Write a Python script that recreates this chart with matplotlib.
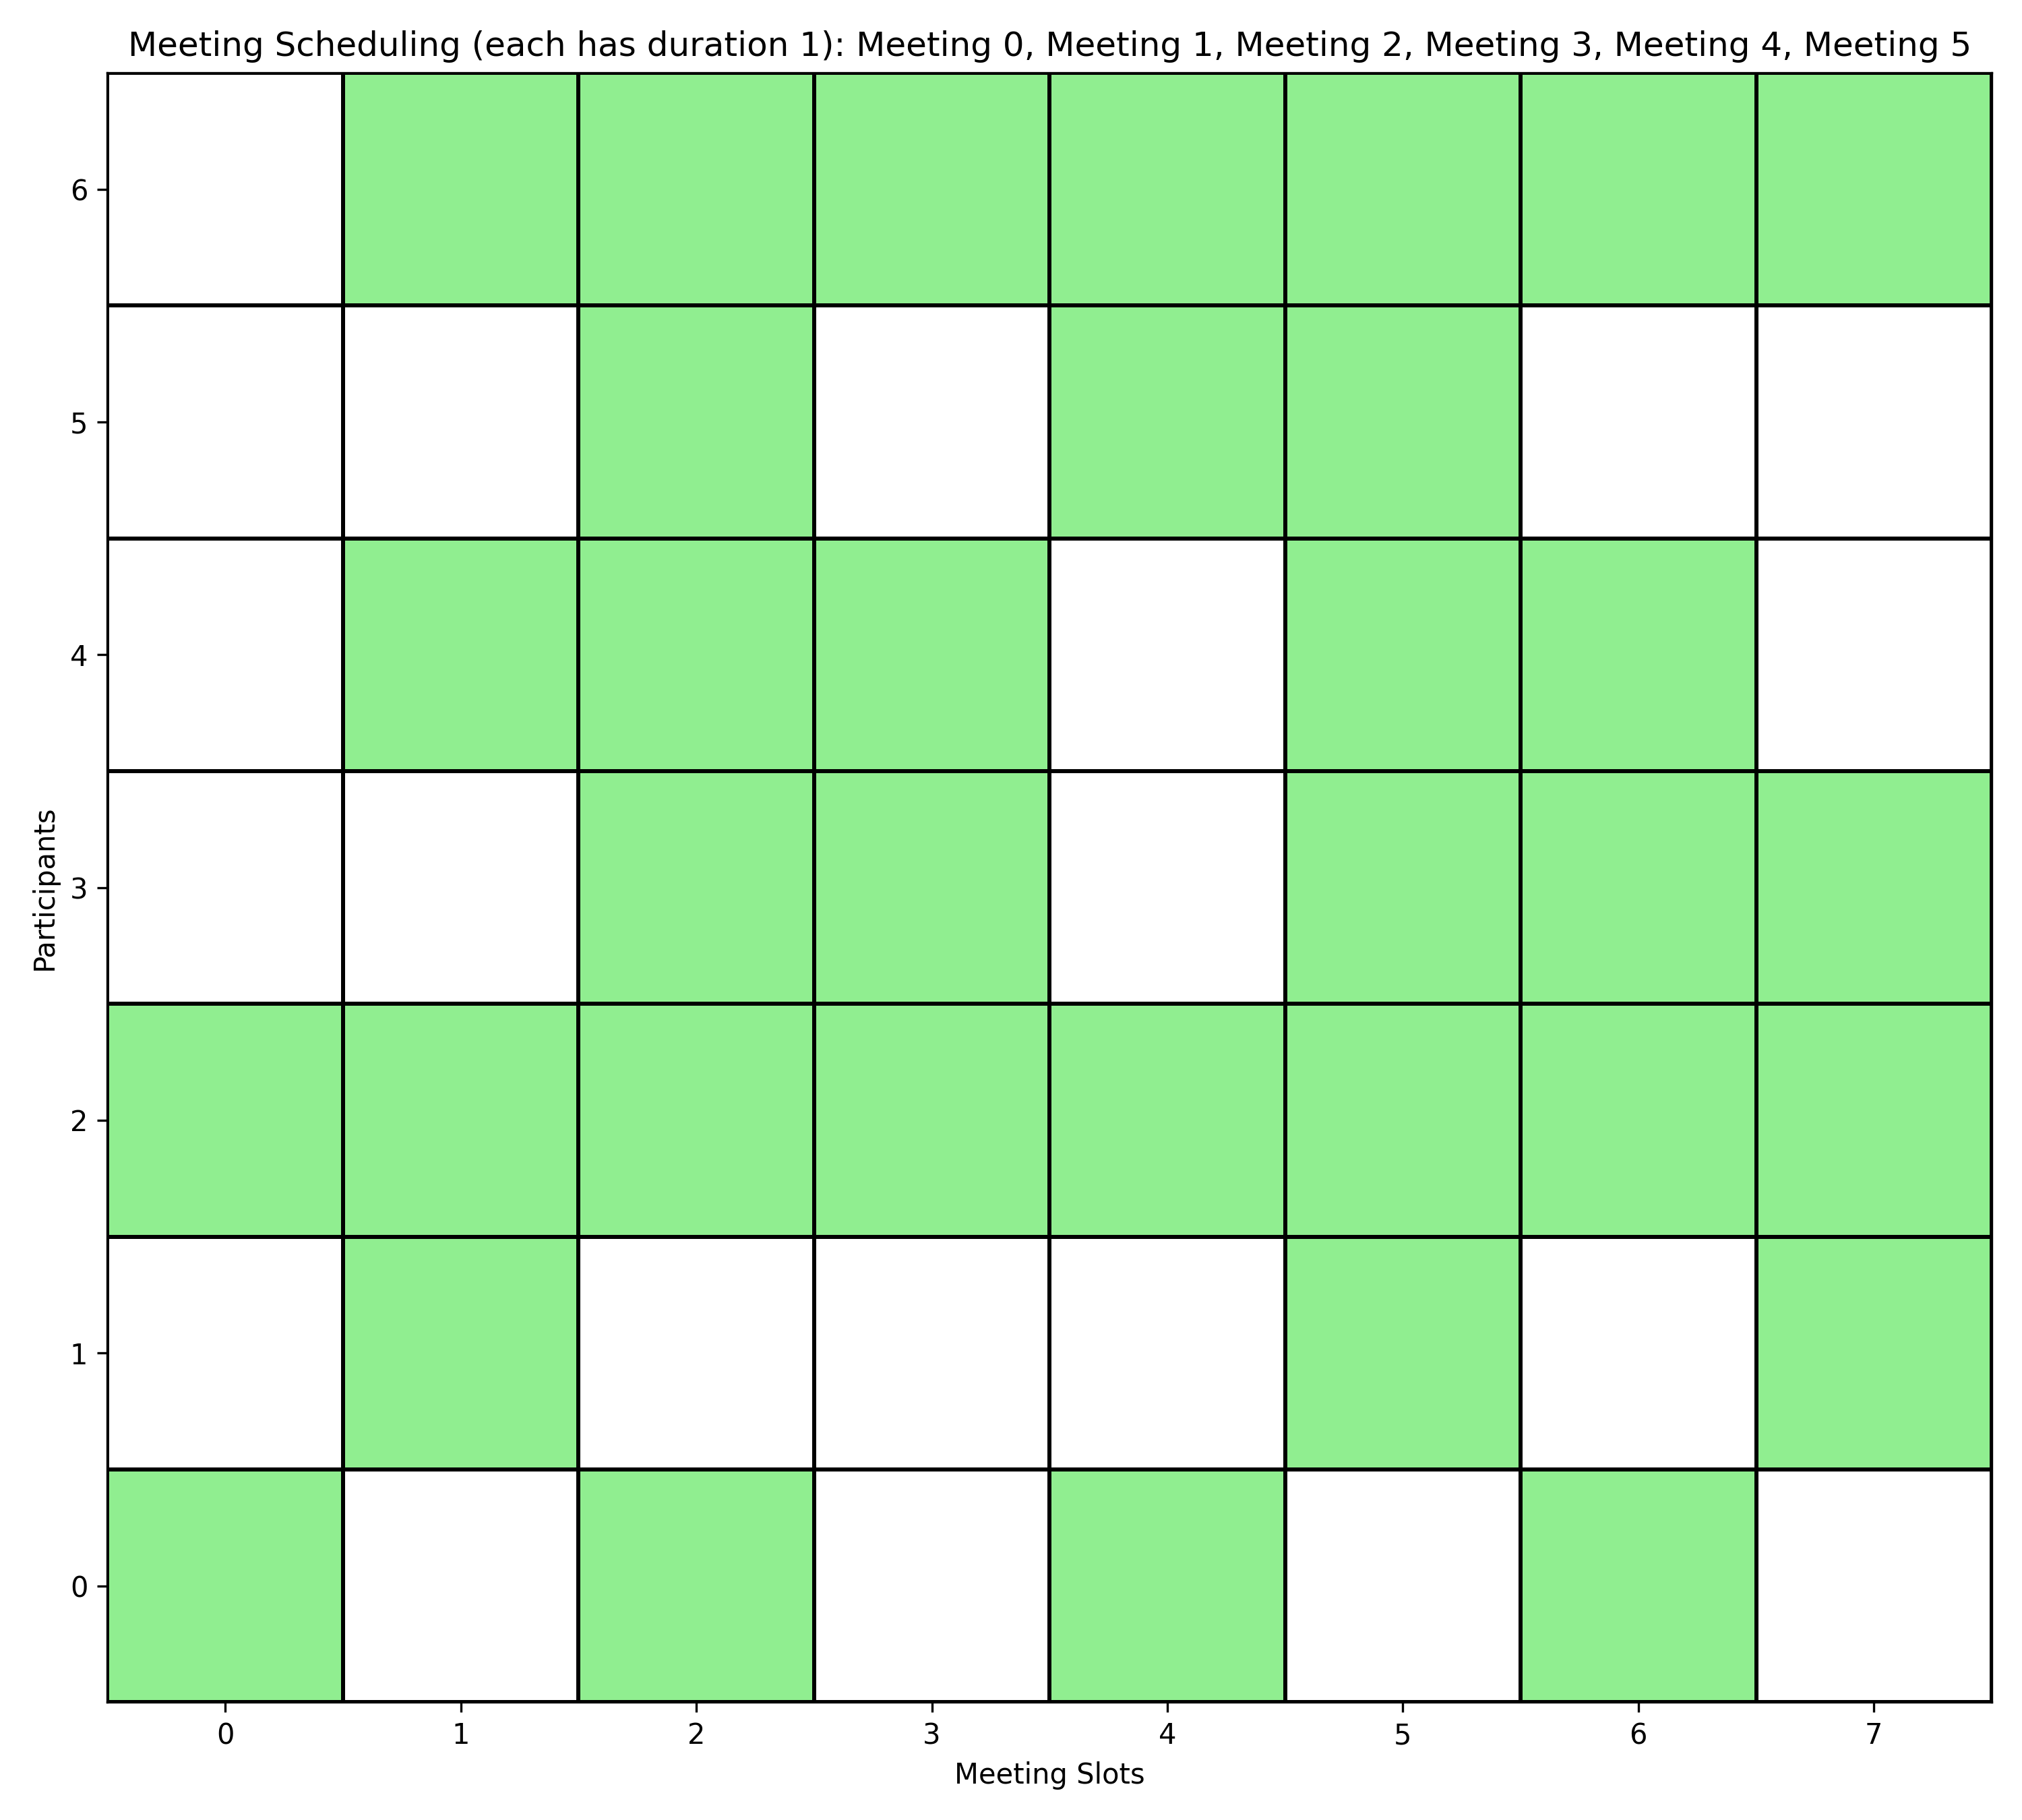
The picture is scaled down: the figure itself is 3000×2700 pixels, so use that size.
import numpy as np
import matplotlib
matplotlib.use("Agg")
import matplotlib.pyplot as plt
from matplotlib.colors import ListedColormap

slots = list(range(8))
participants = list(range(7))
meetings = ["Meeting 0", "Meeting 1", "Meeting 2", "Meeting 3", "Meeting 4", "Meeting 5"]

# availability[participant][slot]
availability = [
    [1, 0, 1, 0, 1, 0, 1, 0],  # participant 0
    [0, 1, 0, 0, 0, 1, 0, 1],  # participant 1
    [1, 1, 1, 1, 1, 1, 1, 1],  # participant 2
    [0, 0, 1, 1, 0, 1, 1, 1],  # participant 3
    [0, 1, 1, 1, 0, 1, 1, 0],  # participant 4
    [0, 0, 1, 0, 1, 1, 0, 0],  # participant 5
    [0, 1, 1, 1, 1, 1, 1, 1],  # participant 6
]

fig, ax = plt.subplots(figsize=(10, 9), dpi=300)
xe = np.arange(len(slots) + 1) - 0.5
ye = np.arange(len(participants) + 1) - 0.5
cmap = ListedColormap(["white", "lightgreen"])
ax.pcolormesh(xe, ye, np.array(availability), cmap=cmap, vmin=0, vmax=1,
              edgecolors="black", linewidth=1)
ax.set_xlim(-0.5, len(slots) - 0.5)
ax.set_ylim(-0.5, len(participants) - 0.5)
ax.set_xticks(slots)
ax.set_yticks(participants)
ax.set_xlabel("Meeting Slots")
ax.set_ylabel("Participants")
ax.set_title("Meeting Scheduling (each has duration 1): " + ", ".join(meetings))
fig.tight_layout()
fig.savefig("out.png")
